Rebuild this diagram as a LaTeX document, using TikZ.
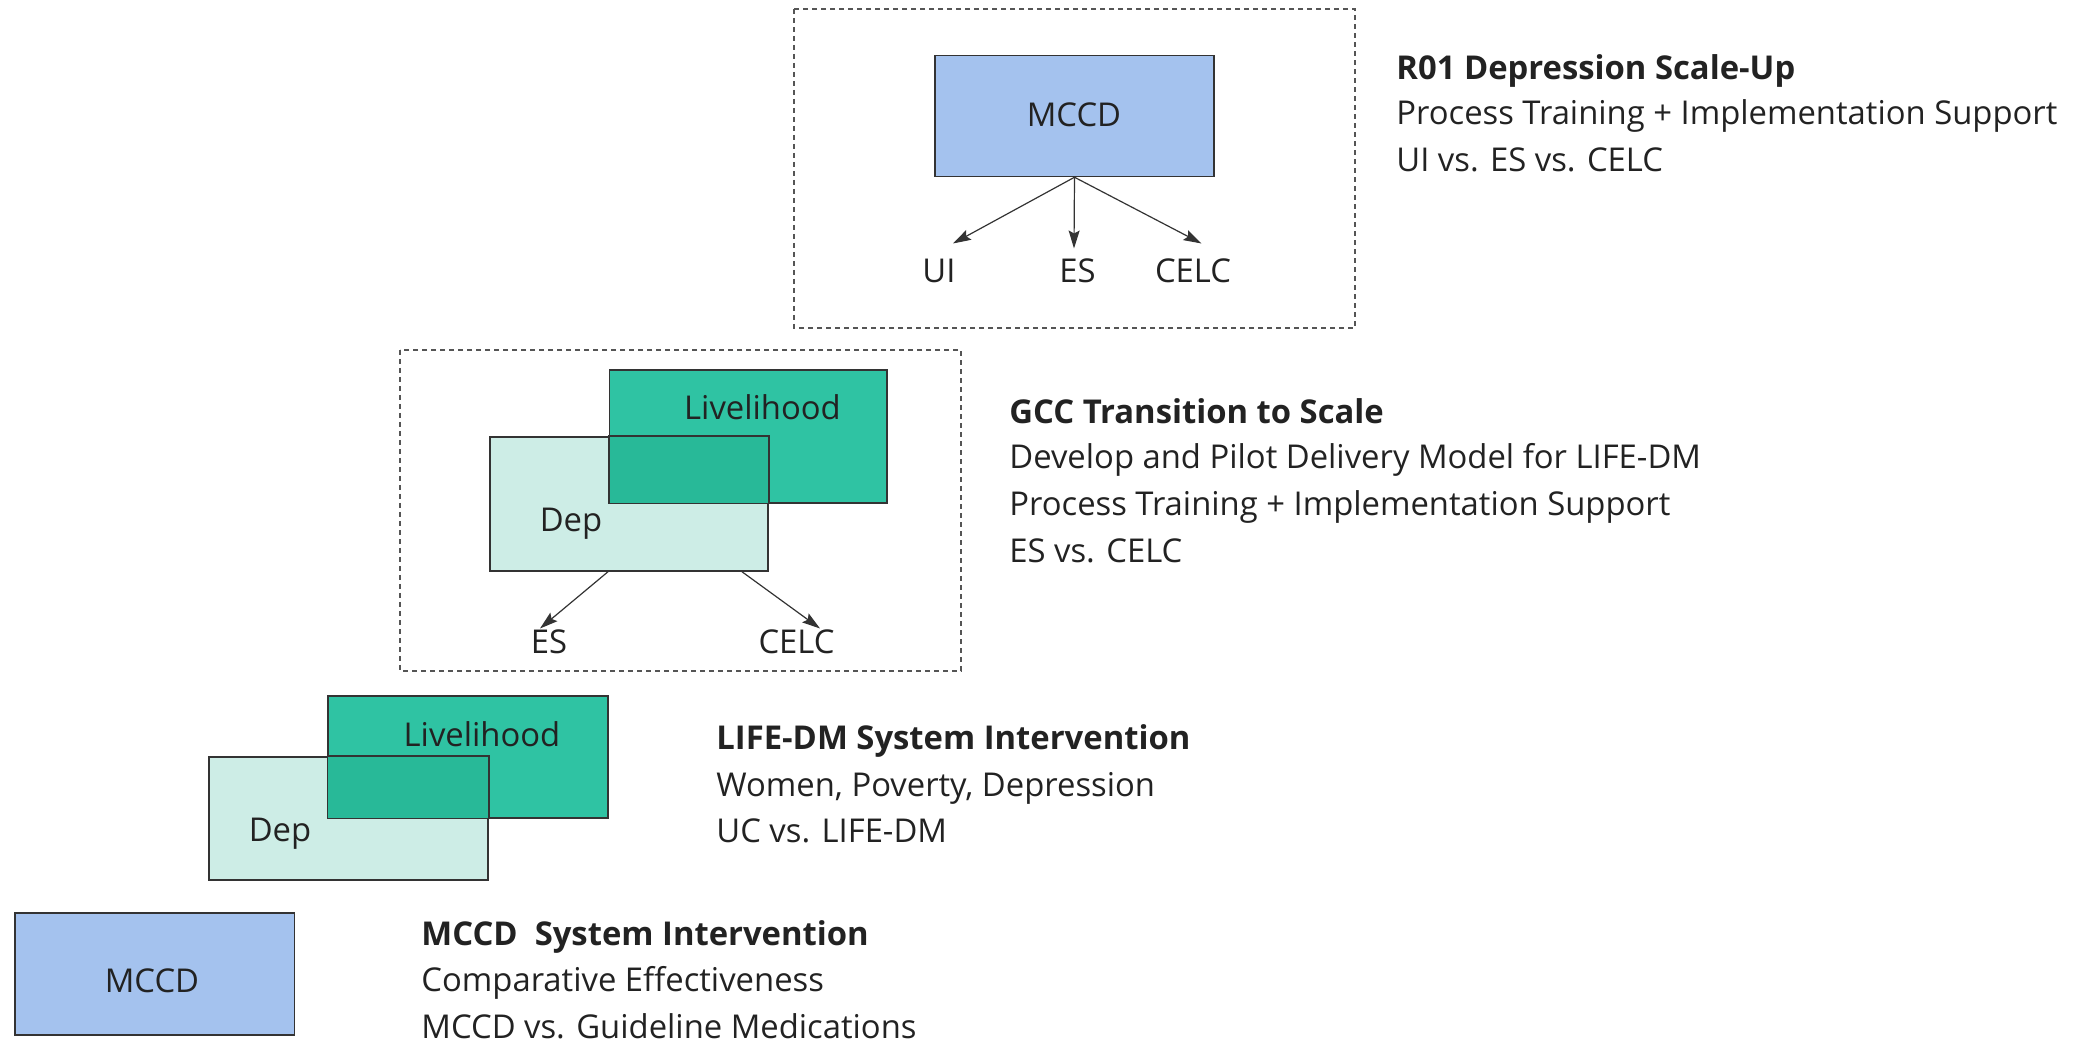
\documentclass[tikz,border=0pt]{standalone}
\usepackage{fontspec}
\setmainfont{Open Sans}
\usetikzlibrary{arrows.meta,calc}
\definecolor{mccdblue}{HTML}{A4C2EE}
\definecolor{livteal}{HTML}{2FC3A3}
\definecolor{depmint}{HTML}{CDEDE6}
\definecolor{overlapteal}{HTML}{28B998}
\definecolor{edgec}{HTML}{333333}
\definecolor{dashgray}{HTML}{555555}
\definecolor{txtc}{HTML}{222222}
\tikzset{
  box/.style={draw=edgec, line width=0.75pt, rectangle, inner sep=0pt},
  frame/.style={draw=dashgray, line width=0.7pt, dash pattern=on 2.5pt off 2pt},
  lbl/.style={font=\fontsize{16.4}{20}\selectfont, text=txtc, inner sep=0pt, anchor=base},
  line/.style={font=\fontsize{16.4}{20}\selectfont, text=txtc, inner sep=0pt, anchor=base west},
  title/.style={line, font=\fontsize{16.4}{20}\selectfont\bfseries},
  arr/.style={draw=edgec, line width=0.6pt, -{Stealth[length=9pt,width=5.5pt,inset=1.5pt]}},
}
\begin{document}
\begin{tikzpicture}[x=0.5pt,y=-0.5pt]
\useasboundingbox (0,0) rectangle (2085,1042);

% ---------- R01 group ----------
\draw[frame] (794,9) rectangle (1355,328);
\node[box, fill=mccdblue, minimum width=139.5pt, minimum height=60.5pt] (mccdA) at (1074.5,116) {};
\node[lbl] (mccdAl) at (1074,127) {MCCD};
\node[lbl] (ui) at (939,283) {UI};
\node[lbl] (esA) at (1077.5,283) {ES};
\node[lbl] (celcA) at (1193,283) {CELC};
\coordinate (uiTip) at (953,243.5);
\coordinate (esATip) at (1074,248.5);
\coordinate (celcATip) at (1201.5,243.5);
\draw[arr] (mccdA.south) -- (uiTip);
\draw[arr] (mccdA.south) -- (esATip);
\draw[arr] (mccdA.south) -- (celcATip);

\node[title] (r01t) at (1396,80) {R01 Depression Scale-Up};
\node[line] (r01a) at (1396,125) {Process Training + Implementation Support};
\node[line] (r01b) at (1396,171.5) {UI vs. ES vs. CELC};

% ---------- GCC group ----------
\draw[frame] (400,350) rectangle (961,671);
\node[box, fill=livteal, minimum width=138.75pt, minimum height=66.5pt] (livM) at (748.25,436.5) {};
\node[box, fill=depmint, minimum width=139pt, minimum height=67pt] (depM) at (629,504) {};
\filldraw[fill=overlapteal, draw=edgec, line width=0.75pt] (livM.south west) rectangle (depM.north east);
\node[lbl] (livMl) at (762.5,420) {Livelihood};
\node[lbl] (depMl) at (571,532) {Dep};
\node[lbl] (esM) at (549,653.5) {ES};
\node[lbl] (celcM) at (796.5,653.5) {CELC};
\coordinate (esMTip) at (540,628.5);
\coordinate (celcMTip) at (820,628.5);
\draw[arr] ([xshift=-10.5pt]depM.south) -- (esMTip);
\draw[arr] ([xshift=56.5pt]depM.south) -- (celcMTip);

\node[title] (gcct) at (1009,423.5) {GCC Transition to Scale};
\node[line] (gcca) at (1009,469) {Develop and Pilot Delivery Model for LIFE-DM};
\node[line] (gccb) at (1009,515.5) {Process Training + Implementation Support};
\node[line] (gccc) at (1009,562.5) {ES vs. CELC};

% ---------- LIFE-DM group ----------
\node[box, fill=livteal, minimum width=140pt, minimum height=61pt] (livL) at (468,757) {};
\node[box, fill=depmint, minimum width=139.5pt, minimum height=61.5pt] (depL) at (348.5,818.5) {};
\filldraw[fill=overlapteal, draw=edgec, line width=0.75pt] (livL.south west) rectangle (depL.north east);
\node[lbl] (livLl) at (482,747) {Livelihood};
\node[lbl] (depLl) at (280,842) {Dep};

\node[title] (lifet) at (716,750) {LIFE-DM System Intervention};
\node[line] (lifea) at (716,796.5) {Women, Poverty, Depression};
\node[line] (lifeb) at (716,843) {UC vs. LIFE-DM};

% ---------- MCCD group ----------
\node[box, fill=mccdblue, minimum width=139.75pt, minimum height=61pt] (mccdB) at (154.5,974) {};
\node[lbl] (mccdBl) at (152,993) {MCCD};

\node[title] (mccdt) at (421,945.5) {MCCD\ \ System Intervention};
\node[line] (mccda) at (421,991.5) {Comparative Effectiveness};
\node[line] (mccdb) at (421,1038) {MCCD vs. Guideline Medications};
\end{tikzpicture}
\end{document}
